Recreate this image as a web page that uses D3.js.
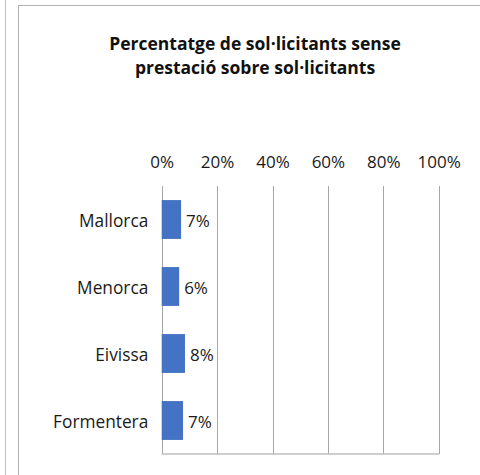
<!DOCTYPE html>
<html>
<head>
<meta charset="utf-8">
<script src="https://cdn.jsdelivr.net/npm/d3@7"></script>
<style>
  html, body { margin: 0; padding: 0; background: #fff; }
  svg { display: block; font-family: "Open Sans", "Noto Sans", sans-serif; }
</style>
</head>
<body>
<svg id="chart" width="480" height="475"></svg>
<script>
const title = ["Percentatge de sol·licitants sense", "prestació sobre sol·licitants"];
const categories = ["Mallorca", "Menorca", "Eivissa", "Formentera"];
const values = [0.070, 0.063, 0.084, 0.077];
const valueLabels = ["7%", "6%", "8%", "7%"];
const tickValues = [0, 0.2, 0.4, 0.6, 0.8, 1.0];

const svg = d3.select("#chart");

// outer frames
svg.append("line").attr("x1", 5.5).attr("x2", 5.5).attr("y1", 0).attr("y2", 475)
  .attr("stroke", "#c0c0c0").attr("stroke-width", 1);
svg.append("rect").attr("x", 18.5).attr("y", 5.5).attr("width", 480).attr("height", 480)
  .attr("fill", "none").attr("stroke", "#b0b0b0").attr("stroke-width", 1);

// title
svg.append("text")
  .attr("x", 255).attr("y", 49.5)
  .attr("text-anchor", "middle")
  .attr("font-size", 17.5).attr("font-weight", "bold").attr("fill", "#111")
  .selectAll("tspan").data(title).join("tspan")
  .attr("x", 255).attr("dy", (d, i) => i === 0 ? 0 : 24.5)
  .text(d => d);

const x = d3.scaleLinear().domain([0, 1]).range([161.7, 438.7]);
const y = d3.scaleBand().domain(categories).range([186, 454]).paddingInner(0.42).paddingOuter(0.21);

// gridlines
svg.append("g").selectAll("line").data(tickValues).join("line")
  .attr("x1", d => Math.round(x(d)) + 0.5).attr("x2", d => Math.round(x(d)) + 0.5)
  .attr("y1", 186).attr("y2", 454)
  .attr("stroke", "#a6a6a6").attr("stroke-width", 1);

// bottom axis line
svg.append("line").attr("x1", x(0)).attr("x2", x(1) + 0.5).attr("y1", 454).attr("y2", 454)
  .attr("stroke", "#bfbfbf").attr("stroke-width", 1.5);

// top axis labels
const xAxis = d3.axisTop(x).tickValues(tickValues).tickFormat(d3.format(".0%")).tickSize(0).tickPadding(0);
const gx = svg.append("g").attr("transform", "translate(0,168.3)").call(xAxis);
gx.select(".domain").remove();
gx.selectAll("text").attr("font-size", 17).attr("fill", "#1a1a1a")
  .attr("font-family", "\"Open Sans\", sans-serif").attr("dy", 0);

// category labels
const yAxis = d3.axisLeft(y).tickSize(0).tickPadding(0);
const gy = svg.append("g").attr("transform", "translate(148.3,0)").call(yAxis);
gy.select(".domain").remove();
gy.selectAll("text").attr("font-size", 17.3).attr("fill", "#1a1a1a")
  .attr("font-family", "\"Open Sans\", sans-serif").attr("dy", "0.45em");

// bars
const data = categories.map((c, i) => ({ c, v: values[i], label: valueLabels[i] }));
svg.append("g").selectAll("rect").data(data).join("rect")
  .attr("x", x(0)).attr("y", d => y(d.c))
  .attr("width", d => x(d.v) - x(0)).attr("height", y.bandwidth())
  .attr("fill", "#4472c4");

// value labels
svg.append("g").selectAll("text").data(data).join("text")
  .attr("x", d => x(d.v) + 5).attr("y", d => y(d.c) + y.bandwidth() / 2)
  .attr("dy", "0.45em")
  .attr("font-size", 17).attr("fill", "#1a1a1a")
  .text(d => d.label);
</script>
</body>
</html>
